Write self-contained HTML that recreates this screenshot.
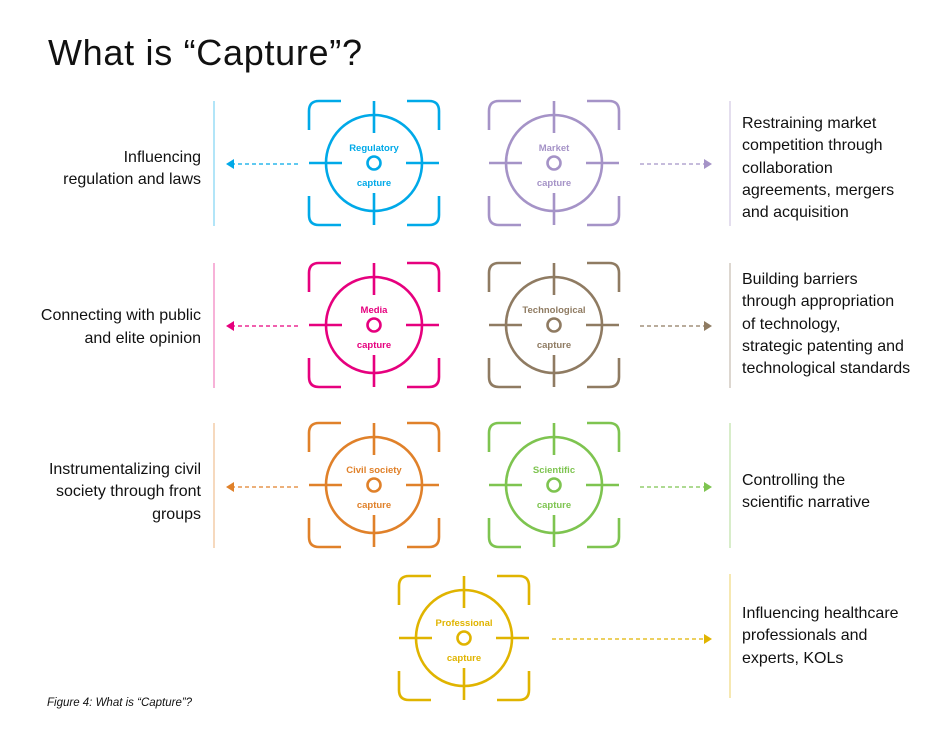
<!DOCTYPE html>
<html><head><meta charset="utf-8"><style>
body{margin:0;background:#fff;}
svg{display:block;font-family:"Liberation Sans",sans-serif;}
</style></head><body>
<svg width="930" height="738" viewBox="0 0 930 738">
<defs>
<g id="ic" fill="none" stroke="currentColor" stroke-width="2.6">
<path d="M-65,-33 V-52 Q-65,-62 -55,-62 H-33"/>
<path d="M33,-62 H55 Q65,-62 65,-52 V-33"/>
<path d="M-65,33 V52 Q-65,62 -55,62 H-33"/>
<path d="M33,62 H55 Q65,62 65,52 V33"/>
<circle r="48"/>
<circle r="6.5"/>
<path d="M0,-62 V-30 M0,30 V62 M-65,0 H-32 M32,0 H65"/>
</g>
</defs>
<text x="48" y="65" font-size="36" textLength="314" fill="#111">What is “Capture”?</text>

<!-- Row 1 -->
<g color="#00a9e8"><use href="#ic" x="374" y="163"/></g>
<text x="374" y="151" fill="#00a9e8" font-size="9.5" font-weight="bold" text-anchor="middle">Regulatory</text>
<text x="374" y="186" fill="#00a9e8" font-size="9.5" font-weight="bold" text-anchor="middle">capture</text>
<line x1="298" y1="164" x2="232" y2="164" stroke="#00a9e8" stroke-width="1.3" stroke-dasharray="4,3"/>
<path d="M226,164 l8,-5 v10z" fill="#00a9e8"/>
<line x1="214" y1="101" x2="214" y2="226" stroke="#00a9e8" stroke-width="1" opacity=".6"/>
<g font-size="16" fill="#111" text-anchor="end"><text x="201" y="162">Influencing</text><text x="201" y="184">regulation and laws</text></g>

<g color="#a593c7"><use href="#ic" x="554" y="163"/></g>
<text x="554" y="151" fill="#a593c7" font-size="9.5" font-weight="bold" text-anchor="middle">Market</text>
<text x="554" y="186" fill="#a593c7" font-size="9.5" font-weight="bold" text-anchor="middle">capture</text>
<line x1="640" y1="164" x2="706" y2="164" stroke="#a593c7" stroke-width="1.3" stroke-dasharray="4,3"/>
<path d="M712,164 l-8,-5 v10z" fill="#a593c7"/>
<line x1="730" y1="101" x2="730" y2="226" stroke="#a593c7" stroke-width="1" opacity=".6"/>
<g font-size="16" fill="#111"><text x="742" y="128">Restraining market</text><text x="742" y="150">competition through</text><text x="742" y="173">collaboration</text><text x="742" y="195">agreements, mergers</text><text x="742" y="217">and acquisition</text></g>

<!-- Row 2 -->
<g color="#e6007e"><use href="#ic" x="374" y="325"/></g>
<text x="374" y="313" fill="#e6007e" font-size="9.5" font-weight="bold" text-anchor="middle">Media</text>
<text x="374" y="348" fill="#e6007e" font-size="9.5" font-weight="bold" text-anchor="middle">capture</text>
<line x1="298" y1="326" x2="232" y2="326" stroke="#e6007e" stroke-width="1.3" stroke-dasharray="4,3"/>
<path d="M226,326 l8,-5 v10z" fill="#e6007e"/>
<line x1="214" y1="263" x2="214" y2="388" stroke="#e6007e" stroke-width="1" opacity=".6"/>
<g font-size="16" fill="#111" text-anchor="end"><text x="201" y="320">Connecting with public</text><text x="201" y="343">and elite opinion</text></g>

<g color="#8f7b62"><use href="#ic" x="554" y="325"/></g>
<text x="554" y="313" fill="#8f7b62" font-size="9.5" font-weight="bold" text-anchor="middle">Technological</text>
<text x="554" y="348" fill="#8f7b62" font-size="9.5" font-weight="bold" text-anchor="middle">capture</text>
<line x1="640" y1="326" x2="706" y2="326" stroke="#8f7b62" stroke-width="1.3" stroke-dasharray="4,3"/>
<path d="M712,326 l-8,-5 v10z" fill="#8f7b62"/>
<line x1="730" y1="263" x2="730" y2="388" stroke="#8f7b62" stroke-width="1" opacity=".6"/>
<g font-size="16" fill="#111"><text x="742" y="284">Building barriers</text><text x="742" y="306">through appropriation</text><text x="742" y="329">of technology,</text><text x="742" y="351">strategic patenting and</text><text x="742" y="373">technological standards</text></g>

<!-- Row 3 -->
<g color="#e0812a"><use href="#ic" x="374" y="485"/></g>
<text x="374" y="473" fill="#e0812a" font-size="9.5" font-weight="bold" text-anchor="middle">Civil society</text>
<text x="374" y="508" fill="#e0812a" font-size="9.5" font-weight="bold" text-anchor="middle">capture</text>
<line x1="298" y1="487" x2="232" y2="487" stroke="#e0812a" stroke-width="1.3" stroke-dasharray="4,3"/>
<path d="M226,487 l8,-5 v10z" fill="#e0812a"/>
<line x1="214" y1="423" x2="214" y2="548" stroke="#e0812a" stroke-width="1" opacity=".6"/>
<g font-size="16" fill="#111" text-anchor="end"><text x="201" y="474">Instrumentalizing civil</text><text x="201" y="496">society through front</text><text x="201" y="519">groups</text></g>

<g color="#7ec450"><use href="#ic" x="554" y="485"/></g>
<text x="554" y="473" fill="#7ec450" font-size="9.5" font-weight="bold" text-anchor="middle">Scientific</text>
<text x="554" y="508" fill="#7ec450" font-size="9.5" font-weight="bold" text-anchor="middle">capture</text>
<line x1="640" y1="487" x2="706" y2="487" stroke="#7ec450" stroke-width="1.3" stroke-dasharray="4,3"/>
<path d="M712,487 l-8,-5 v10z" fill="#7ec450"/>
<line x1="730" y1="423" x2="730" y2="548" stroke="#7ec450" stroke-width="1" opacity=".6"/>
<g font-size="16" fill="#111"><text x="742" y="485">Controlling the</text><text x="742" y="507">scientific narrative</text></g>

<!-- Row 4 -->
<g color="#e0b400"><use href="#ic" x="464" y="638"/></g>
<text x="464" y="626" fill="#e0b400" font-size="9.5" font-weight="bold" text-anchor="middle">Professional</text>
<text x="464" y="661" fill="#e0b400" font-size="9.5" font-weight="bold" text-anchor="middle">capture</text>
<line x1="552" y1="639" x2="706" y2="639" stroke="#e0b400" stroke-width="1.3" stroke-dasharray="4,3"/>
<path d="M712,639 l-8,-5 v10z" fill="#e0b400"/>
<line x1="730" y1="574" x2="730" y2="698" stroke="#e0b400" stroke-width="1" opacity=".6"/>
<g font-size="16" fill="#111"><text x="742" y="618">Influencing healthcare</text><text x="742" y="640">professionals and</text><text x="742" y="663">experts, KOLs</text></g>

<text x="47" y="706" font-size="11.5" font-style="italic" fill="#111">Figure 4: What is “Capture”?</text>
</svg>
</body></html>
